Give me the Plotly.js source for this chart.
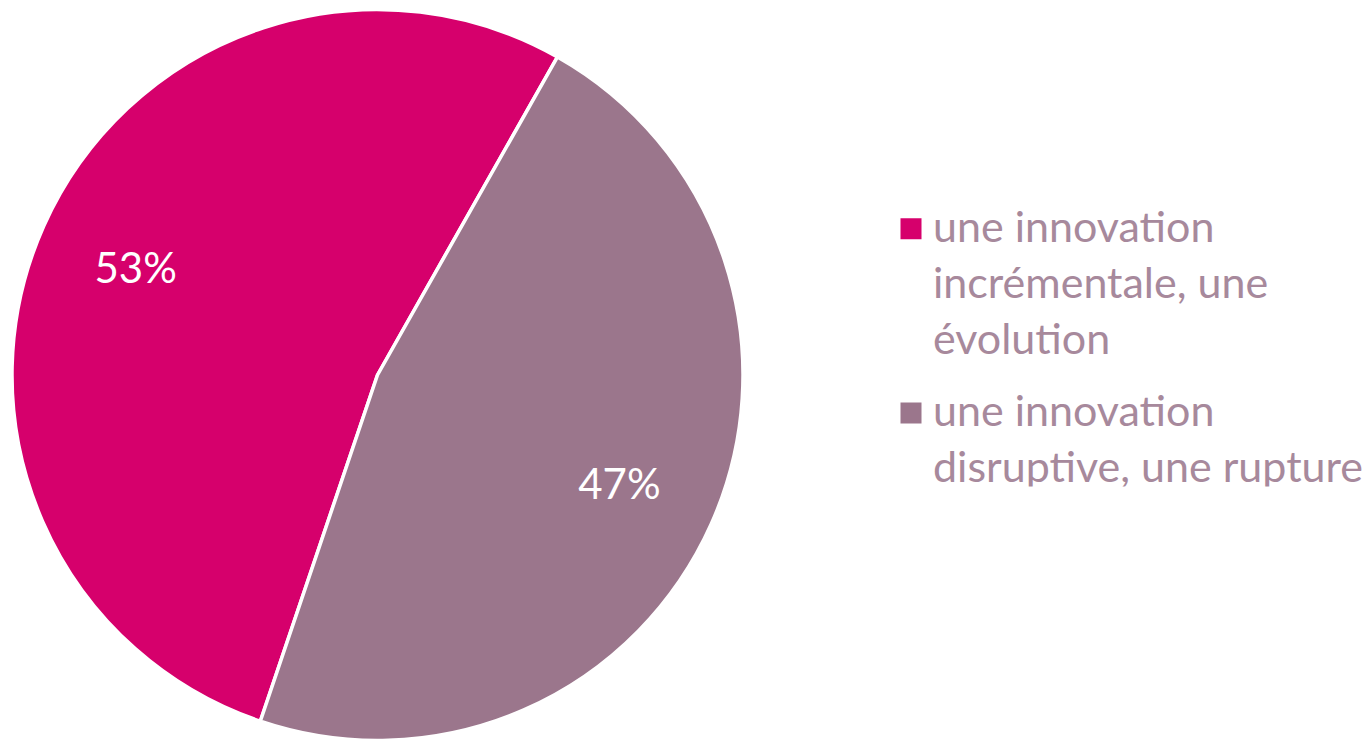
<!DOCTYPE html>
<html>
<head>
<meta charset="utf-8">
<script src="https://cdn.plot.ly/plotly-3.0.1.min.js"></script>
<style>
html, body { margin: 0; padding: 0; overflow: hidden; background: #ffffff; }
#chart { width: 1370px; height: 750px; }
</style>
</head>
<body>
<div id="chart"></div>
<script>
// ---- data ----
const labels = [
  "une innovation<br>incrémentale, une<br>évolution",
  "une innovation<br>disruptive, une rupture"
];
const values = [53, 47];
const colors = ["#d6006c", "#9b768c"];

// ---- chart ----
const pieDomain = { x: [12 / 1370, 743 / 1370], y: [0, 1] };
// first slice starts at 198.7° (clockwise from 12 o'clock) so that its end sits at 29.5°
const startAngle = -161.3;

// visible pie with slices, borders and legend
const pieTrace = {
  type: "pie",
  labels: labels,
  values: values,
  sort: false,
  direction: "clockwise",
  rotation: startAngle,
  marker: { colors: colors, line: { color: "#ffffff", width: 3.5 } },
  textinfo: "none",
  domain: pieDomain,
  hoverinfo: "none"
};

// transparent ring carrying the percentage labels further out on each slice
const labelTrace = {
  type: "pie",
  labels: labels,
  values: values,
  sort: false,
  direction: "clockwise",
  rotation: startAngle,
  hole: 0.45,
  showlegend: false,
  marker: { colors: ["rgba(0,0,0,0)", "rgba(0,0,0,0)"], line: { width: 0 } },
  textinfo: "percent",
  textposition: "inside",
  insidetextorientation: "horizontal",
  textfont: { family: "Lato, sans-serif", size: 42, color: "#ffffff" },
  domain: pieDomain,
  hoverinfo: "none"
};

const layout = {
  width: 1370,
  height: 750,
  margin: { l: 0, r: 0, t: 0, b: 0 },
  paper_bgcolor: "#ffffff",
  plot_bgcolor: "#ffffff",
  showlegend: true,
  legend: {
    x: 893 / 1370,
    xanchor: "left",
    y: 1 - 190.5 / 750,
    yanchor: "top",
    font: { family: "Lato, sans-serif", size: 43, color: "#a7899c" },
    bgcolor: "rgba(0,0,0,0)",
    borderwidth: 0
  },
  hovermode: false
};

Plotly.newPlot("chart", [pieTrace, labelTrace], layout, { staticPlot: true, displayModeBar: false }).then(function (gd) {
  const svg = gd.querySelector("svg.main-svg");
  const items = gd.querySelectorAll(".legend g.traces");
  items.forEach(function (item, i) {
    if (i > 0) {
      const t = item.getAttribute("transform") || "";
      item.setAttribute("transform", t + " translate(0,13.6)");
    }
    const text = item.querySelector("text.legendtext");
    if (!text) return;
    const pt = svg.createSVGPoint();
    pt.x = parseFloat(text.getAttribute("x")) || 0;
    pt.y = parseFloat(text.getAttribute("y")) || 0;
    const sp = pt.matrixTransform(text.getScreenCTM());
    const targetX = sp.x - 22, targetY = sp.y - 12.9;
    item.querySelectorAll("path.legendpie").forEach(function (p) {
      p.removeAttribute("transform");
      p.style.strokeWidth = "0px";
      const bb = p.getBBox();
      const cx = bb.x + bb.width / 2, cy = bb.y + bb.height / 2;
      const r = p.getBoundingClientRect();
      const scx = r.left + r.width / 2, scy = r.top + r.height / 2;
      const dx = targetX - scx, dy = targetY - scy;
      p.setAttribute("transform",
        "translate(" + (dx + cx) + "," + (dy + cy) + ") scale(1.75) translate(" + (-cx) + "," + (-cy) + ")");
    });
  });
});
</script>
</body>
</html>
